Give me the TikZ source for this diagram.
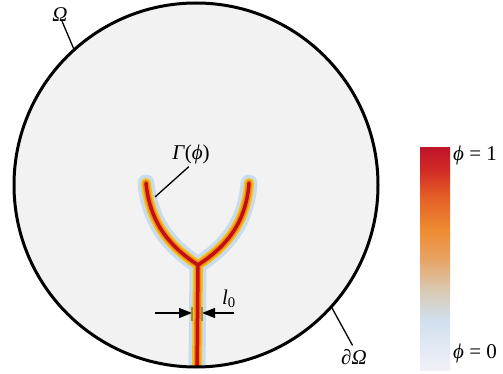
\documentclass[tikz,border=0pt]{standalone}
\usepackage{fontspec}
\setmainfont{Liberation Serif}
\usetikzlibrary{arrows.meta}
\definecolor{domainfill}{HTML}{F2F2F2}
\definecolor{halo}{HTML}{C8DCEE}
\definecolor{gold}{HTML}{F5C21B}
\definecolor{amber}{HTML}{EE8A1E}
\definecolor{crackred}{HTML}{C20E14}
\definecolor{tickgold}{HTML}{A88A2A}
\definecolor{bar0}{HTML}{F1F1F7}
\definecolor{bar1}{HTML}{D0E0EE}
\definecolor{bar2}{HTML}{D9C7AE}
\definecolor{bar3}{HTML}{E9A262}
\definecolor{bar4}{HTML}{EE8C32}
\definecolor{bar5}{HTML}{E45C26}
\definecolor{bar6}{HTML}{D22A26}
\definecolor{bar7}{HTML}{C0142A}
% stops mapped into the middle 25bp--75bp that TikZ fits to the path
\pgfdeclareverticalshading{phibar}{100bp}{color(0bp)=(bar0); color(25bp)=(bar0);
  color(36.3bp)=(bar1); color(43.5bp)=(bar2); color(50.2bp)=(bar3);
  color(56.5bp)=(bar4); color(64.4bp)=(bar5); color(70bp)=(bar6);
  color(75bp)=(bar7); color(100bp)=(bar7)}

\begin{document}
\begin{tikzpicture}[x=1pt,y=-1pt,
    lbl/.style={font=\fontsize{21}{23}\selectfont,inner sep=1pt},
    leader/.style={line width=1.3pt,black},
    gap/.style={line width=1.3pt,-{Triangle[length=13pt,width=10pt]}},
    tickmark/.style={line width=1.4pt,tickgold}
  ]
    \useasboundingbox (0,0) rectangle (503,374);
    % domain
    \node[circle,fill=domainfill,minimum size=364pt,inner sep=0pt] (domain) at (196,185) {};
    % crack with diffuse band
    \begin{scope}
      \clip (196,185) circle[radius=182];
      \coordinate (jn) at (198,265);
      \foreach \w/\c in {17/halo,10/gold,6.5/amber,3.5/crackred}{
        \draw[line width=\w pt,\c,line cap=round,line join=round]
          (197,372) -- (jn)
          (jn) .. controls (172,248) and (150,225) .. (146,183)
          (jn) .. controls (224,248) and (246,225) .. (249,183);
      }
    \end{scope}
    \draw[line width=3pt] (196,185) circle[radius=182];

    % labels
    \node[lbl] (omegalbl) at (60,15) {\textit{Ω}};
    \draw[leader] (omegalbl.south) ++(2,-2) -- (domain.132);
    \node[lbl] (dOmegalbl) at (354,357) {\textit{∂Ω}};
    \coordinate (dOmegaend) at (domain.-42);
    \draw[leader,shorten <=3pt] (dOmegalbl.north) -- (dOmegaend);
    \node[lbl] (gammalbl) at (191,154) {\textit{Γ}(\textit{ϕ})};
    \coordinate (gammaend) at (155,197);
    \draw[leader,shorten <=3pt] (gammalbl.south) -- (gammaend);

    % crack width
    \coordinate (lft) at (192,313);
    \coordinate (rgt) at (202,313);
    \coordinate (lstart) at (155,313);
    \coordinate (rstart) at (234,313);
    \draw[gap] (lstart) -- (lft);
    \draw[gap] (rstart) -- (rgt);
    \draw[tickmark] (192,307) -- (192,321);
    \draw[tickmark] (202,307) -- (202,321);
    \node[lbl] (widthlbl) at (229,299) {\textit{l}\textsubscript{0}};

    % colour bar
    \node[shading=phibar,minimum width=30pt,minimum height=222pt,inner sep=0pt] (cbar) at (435,259) {};
    \node[lbl,anchor=west] (phione) at (452,155) {\textit{ϕ} = 1};
    \node[lbl,anchor=west] (phizero) at (452,353) {\textit{ϕ} = 0};
  \end{tikzpicture}
\end{document}
